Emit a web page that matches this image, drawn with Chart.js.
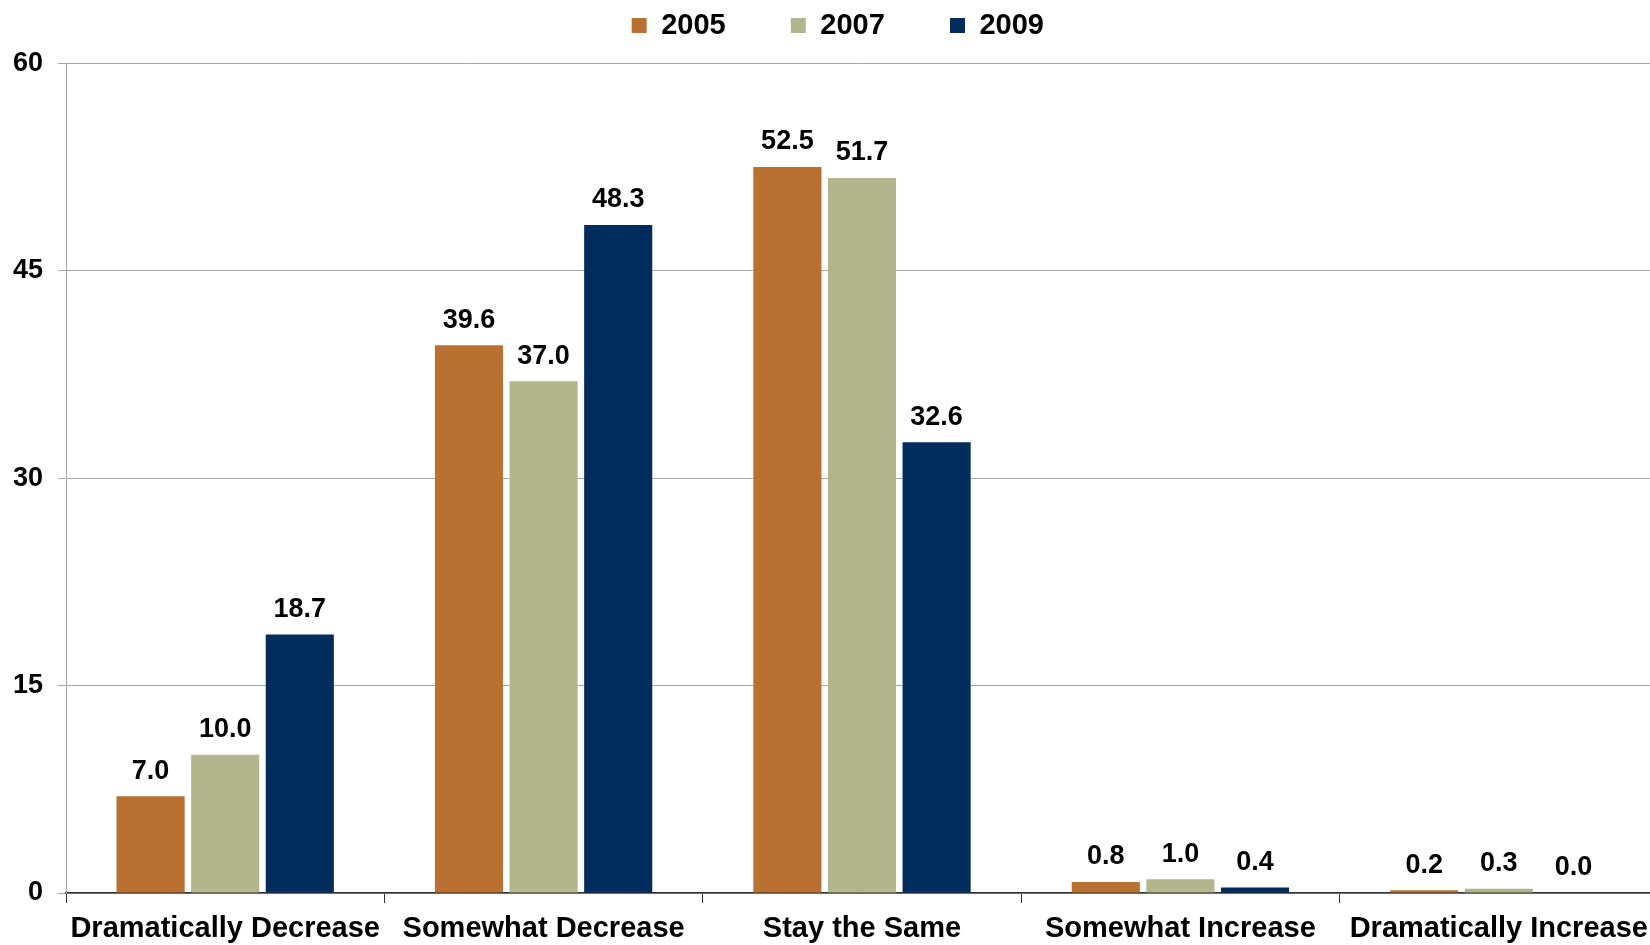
<!DOCTYPE html>
<html>
<head>
<meta charset="utf-8">
<script src="https://cdn.jsdelivr.net/npm/chart.js@4"></script>
<style>
  html, body { margin: 0; padding: 0; background: #fff; overflow: hidden; }
  #wrap { width: 1650px; height: 945px; overflow: hidden; }
</style>
</head>
<body>
<div id="wrap"><canvas id="chart" width="1658" height="945"></canvas></div>
<script>
// Categories and series values
var categories = ["Dramatically Decrease", "Somewhat Decrease", "Stay the Same", "Somewhat Increase", "Dramatically Increase"];
var years = ["2005", "2007", "2009"];
var values2005 = [7.0, 39.6, 52.5, 0.8, 0.2];
var values2007 = [10.0, 37.0, 51.7, 1.0, 0.3];
var values2009 = [18.7, 48.3, 32.6, 0.4, 0.0];
var yTicks = [0, 15, 30, 45, 60];

var colors = ["#B97030", "#B3B58C", "#002D5E"];
var fontFamily = "'Liberation Sans', Arial, sans-serif";

Chart.defaults.font.family = fontFamily;
Chart.defaults.color = "#000";

// Draw the value above each bar
var barLabels = {
    id: "barLabels",
    afterDatasetsDraw: function(chart) {
        var ctx = chart.ctx;
        ctx.save();
        ctx.font = "bold 27px " + fontFamily;
        ctx.fillStyle = "#000";
        ctx.textAlign = "center";
        ctx.textBaseline = "middle";
        chart.data.datasets.forEach(function(ds, i) {
            chart.getDatasetMeta(i).data.forEach(function(bar, j) {
                ctx.fillText(ds.data[j].toFixed(1), bar.x, bar.y - 25);
            });
        });
        ctx.restore();
    }
};

// trailing spaces space the legend items out like the original
var legendGaps = ["\u00a0\u00a0\u00a0\u00a0\u00a0\u00a0\u2009", "\u00a0\u00a0\u00a0\u00a0\u00a0\u00a0\u2009", "\u00a0\u00a0\u00a0\u00a0\u00a0\u00a0"];

var ctx = document.getElementById("chart").getContext("2d");

var chart = new Chart(ctx, {
    type: "bar",
    data: {
        labels: categories,
        datasets: [
            {label: years[0], data: values2005, backgroundColor: colors[0], borderWidth: 0},
            {label: years[1], data: values2007, backgroundColor: colors[1], borderWidth: 0},
            {label: years[2], data: values2009, backgroundColor: colors[2], borderWidth: 0}
        ]
    },
    options: {
        responsive: false,
        animation: false,
        categoryPercentage: 0.703,
        barPercentage: 0.913,
        layout: {padding: 0},
        plugins: {
            legend: {
                position: "top",
                fullSize: false,
                weight: 3000,
                labels: {
                    boxWidth: 15,
                    boxHeight: 15,
                    padding: 11,
                    color: "#000",
                    font: {size: 29, weight: "bold"},
                    generateLabels: function(chart) {
                        return chart.data.datasets.map(function(ds, i) {
                            return {
                                text: ds.label + legendGaps[i],
                                fillStyle: ds.backgroundColor,
                                strokeStyle: ds.backgroundColor,
                                lineWidth: 0,
                                datasetIndex: i
                            };
                        });
                    }
                }
            },
            // empty title used as a spacer between legend and plot
            title: {
                display: true,
                text: "",
                font: {size: 1},
                padding: {top: 0, bottom: 12}
            },
            tooltip: {enabled: false}
        },
        scales: {
            x: {
                grid: {
                    display: true,
                    drawOnChartArea: false,
                    offset: true,
                    tickLength: 10,
                    color: "#333"
                },
                border: {color: "#333", width: 1.5},
                ticks: {
                    padding: 9,
                    maxRotation: 0,
                    autoSkip: false,
                    font: {size: 29, weight: "bold"}
                },
                afterFit: function(scale) { scale.height = 52; }
            },
            y: {
                min: 0,
                max: 60,
                afterBuildTicks: function(scale) {
                    scale.ticks = yTicks.map(function(v) { return {value: v}; });
                },
                grid: {color: "#A6A6A6", tickLength: 8},
                border: {color: "#A6A6A6"},
                ticks: {
                    padding: 15,
                    font: {size: 27, weight: "bold"}
                },
                afterFit: function(scale) { scale.width = 66; }
            }
        }
    },
    plugins: [barLabels]
});
</script>
</body>
</html>
